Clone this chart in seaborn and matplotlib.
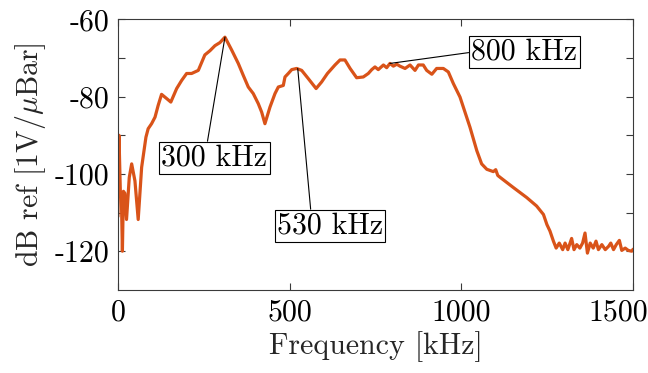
import matplotlib
matplotlib.use("Agg")
import matplotlib.pyplot as plt
import matplotlib.transforms as mtransforms
import pandas as pd
import seaborn as sns

# ---------------- data ----------------
freq_khz = [0, 3, 7, 10, 13, 16, 20, 25, 33, 40, 49.5, 59, 69, 81.5, 88, 98, 108,
            117, 127, 142, 154, 171, 185.5, 200, 214.5, 234, 253, 268, 282.5, 297,
            311.6, 331, 350.4, 365, 379.5, 394, 408.6, 418.5, 428, 442.7, 457.3,
            467, 481.5, 486.4, 496, 506, 520.5, 535, 554, 577, 593, 610, 632,
            646.6, 661, 676, 695, 714.5, 729, 739, 748.5, 758, 773, 782.5, 792,
            802, 812, 821, 836, 850.5, 865, 875, 889, 899, 914, 928, 947.5, 962,
            976.6, 996, 1025, 1045, 1059, 1074, 1093, 1100, 1106, 1113, 1151,
            1190, 1219, 1239, 1249, 1258, 1268, 1276, 1285, 1295, 1302, 1310,
            1321, 1328, 1336, 1345, 1353, 1360, 1367, 1375, 1384, 1392, 1399,
            1409, 1419, 1429, 1435, 1443, 1451, 1460, 1467, 1477, 1486, 1496, 1500]
level_db = [-111, -90, -104.5, -106, -120, -104.5, -105, -111.8, -100.9, -97.4,
            -101.8, -111.8, -98.3, -90.5, -88.3, -87, -85.3, -82.3, -79.4, -80.5,
            -81.4, -77.9, -75.8, -74.0, -74.0, -73.2, -69.2, -68.1, -66.8, -66.0,
            -64.6, -67.9, -71.4, -74.5, -77.5, -79.2, -81.8, -84.0, -87.0, -82.7,
            -79.2, -77.5, -77.1, -74.9, -74.0, -73.0, -72.7, -73.2, -75.3, -77.9,
            -76.2, -74.0, -71.8, -70.5, -70.5, -72.7, -75.1, -74.9, -74.0, -73.0,
            -72.3, -73.0, -71.8, -72.5, -71.4, -72.1, -71.6, -72.1, -72.7, -71.8,
            -73.2, -71.8, -71.8, -73.2, -74.2, -72.7, -72.7, -73.6, -76.6, -80.1,
            -87.9, -94.0, -97.4, -98.8, -99.4, -98.9, -100.4, -100.9, -103.5,
            -106.1, -108.3, -110.5, -113.1, -114.8, -117.4, -119.2, -117.9, -119.6,
            -117.9, -119.6, -116.7, -119.6, -118.3, -119.2, -117.9, -115.3, -120.5,
            -117.9, -119.2, -117.4, -119.6, -118.3, -119.6, -118.7, -117.9, -119.6,
            -118.3, -117.2, -119.8, -119.2, -119.8, -120.0, -119.5]

xtick_values = [0, 500, 1000, 1500]
xtick_labels = ["0", "500", "1000", "1500"]
ytick_values = [-120, -110, -100, -90, -80, -70, -60]
ytick_labels = ["-120", "", "-100", "", "-80", "", "-60"]

ann_labels = ["300 kHz", "530 kHz", "800 kHz"]
ann_freq = [311.6, 523.5, 792]
ann_db = [-64.6, -72.7, -71.4]

x_label = "Frequency [kHz]"
y_label = r"dB ref [1V/$\mu$Bar]"

# ---------------- style ----------------
sns.set_style("ticks")
plt.rcParams["font.family"] = ["cmr10", "DejaVu Serif"]
plt.rcParams["mathtext.fontset"] = "cm"
plt.rcParams["axes.unicode_minus"] = False
plt.rcParams["axes.formatter.use_mathtext"] = True

FS = 21.5
spine_col = "#3a3a3a"

fig = plt.figure(figsize=(6.48, 3.73), dpi=100)
ax = fig.add_axes([0.182, 0.223, 0.795, 0.725])

df = pd.DataFrame({"Frequency": freq_khz, "Level": level_db})
sns.lineplot(data=df, x="Frequency", y="Level", ax=ax, color="#D95319",
             linewidth=2.3, sort=False, estimator=None)

ax.set_xlim(0, 1500)
ax.set_ylim(-130, -60)
ax.set_xticks(xtick_values)
ax.set_xticklabels(xtick_labels)
ax.set_yticks(ytick_values)
ax.set_yticklabels(ytick_labels)
ax.tick_params(direction="in", top=True, right=True, length=5, width=0.8,
               color=spine_col, labelsize=FS, labelcolor="black")
ax.tick_params(axis="x", pad=7)
ax.tick_params(axis="y", pad=6)
for s in ax.spines.values():
    s.set_visible(True)
    s.set_color(spine_col)
    s.set_linewidth(0.8)

# last x tick label sits shifted left so that it stays inside the figure
last_lbl = ax.get_xticklabels()[-1]
last_lbl.set_transform(last_lbl.get_transform() +
                       mtransforms.ScaledTranslation(-0.15, 0, fig.dpi_scale_trans))

ax.set_xlabel(x_label, fontsize=FS, labelpad=3)
ax.set_ylabel(y_label, fontsize=FS, labelpad=5)

# annotation text placement (data coords) and attachment points on the box
text_pos = [(281, -95.8), (617.5, -113.4), (1183.5, -68.5)]
rel_pos = [(0.43, 1.0), (0.32, 1.0), (0.0, 0.5)]
for lab, fx, fy, tp, rp in zip(ann_labels, ann_freq, ann_db, text_pos, rel_pos):
    ax.annotate(lab, xy=(fx, fy), xytext=tp, textcoords="data",
                ha="center", va="center", fontsize=FS, color="black",
                bbox=dict(boxstyle="square,pad=0.08", fc="white", ec="black", lw=0.8),
                arrowprops=dict(arrowstyle="-", color="black", lw=0.8,
                                shrinkA=0, shrinkB=0, relpos=rp))

fig.savefig("out.png", dpi=100)
